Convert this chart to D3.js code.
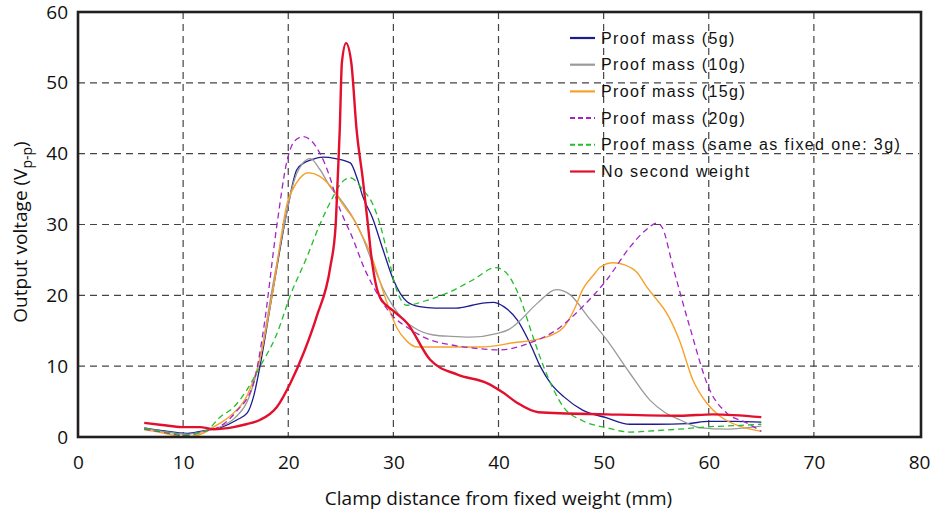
<!DOCTYPE html>
<html>
<head>
<meta charset="utf-8">
<script src="https://cdn.jsdelivr.net/npm/d3@7"></script>
<style>
  body { margin: 0; background: #fff; }
  .tick text { font-family: "Open Sans", sans-serif; font-size: 19px; fill: #111; }
</style>
</head>
<body>
<div id="chart"></div>
<script>
// series: clamp distance (mm) -> output voltage (Vp-p)
const mass5X = [6.3, 8, 10.4, 12, 13.5, 15.1, 16.1, 16.7, 17.3, 18.6, 19.9, 20.8, 21.5, 22.3, 23.3, 24.5, 25.9, 26.6, 27.1, 28, 29, 30, 31.3, 32.5, 34, 36, 37.5, 38.5, 39.5, 40.5, 41.8, 43, 44, 45, 46.2, 48, 50.3, 52.5, 55, 58, 60, 62.5, 65];
const mass5Y = [1.3, 0.9, 0.5, 0.9, 1.3, 2.4, 3.4, 5.7, 9.9, 21.2, 32, 37.7, 38.7, 39.2, 39.5, 39.3, 38.7, 36.3, 33.9, 31, 26.5, 22.2, 19.1, 18.4, 18.2, 18.2, 18.6, 18.9, 19.0, 18.4, 16.5, 13.2, 9.9, 7.5, 5.7, 3.8, 2.7, 1.8, 1.8, 1.9, 2.2, 2.2, 2.1];

const mass10X = [6.3, 8, 10.3, 12, 13.5, 15, 16.1, 17.3, 18.6, 19.9, 20.5, 21.3, 22.1, 23, 24, 25, 25.9, 27, 28, 29, 30, 31, 31.9, 33.8, 35.5, 37.3, 39.8, 41, 41.8, 43.7, 45.5, 46.8, 48.5, 50.3, 52.5, 54.4, 55.8, 57.3, 59.2, 61.7, 63.5, 65];
const mass10Y = [1.2, 0.8, 0.4, 0.8, 1.4, 2.8, 5, 11, 22, 32, 35.9, 38.5, 39.3, 37.8, 35.3, 33.5, 31.6, 28.5, 24.6, 21, 18.4, 16.5, 15.5, 14.4, 14.2, 14.1, 14.6, 15.2, 16.1, 18.9, 20.8, 20.1, 17, 13.7, 9.0, 5.2, 3.5, 2.4, 1.3, 1.1, 1.3, 1.55];

const mass15X = [6.3, 8, 10.2, 12, 12.9, 14.5, 16.1, 17.3, 18.6, 19.9, 20.8, 21.9, 23, 24.3, 25.2, 26.2, 27, 27.8, 28.6, 29.4, 30.3, 31.3, 32.3, 35.1, 38.3, 41.4, 44.3, 46.2, 47.2, 48, 49, 49.7, 50.9, 52, 53.2, 54.1, 55, 56, 57.2, 58.5, 59.8, 61.1, 63, 65];
const mass15Y = [1.0, 0.6, 0.0, 0.6, 1.4, 3.0, 5.9, 11, 21.2, 33, 35.9, 37.3, 36.8, 34.9, 32.8, 30.8, 28.5, 26, 22.5, 18.9, 15.5, 13.5, 12.7, 12.7, 12.7, 13.3, 14, 15.5, 18, 20.8, 22.8, 24, 24.6, 24.3, 23.2, 21.2, 19.5, 17.5, 13.7, 8, 4.8, 2.9, 1.5, 0.8];

const mass20X = [6.3, 8, 10.2, 12, 13.5, 15, 16.7, 17.6, 18.9, 19.9, 20.6, 21.4, 22.2, 23, 24, 24.6, 26.2, 27.3, 28, 29, 30, 31.3, 33.5, 35.5, 37.3, 40.2, 43, 45.5, 48, 50.3, 52.5, 54, 55.1, 55.6, 56.6, 58.2, 60.1, 61.7, 63.6, 65];
const mass20Y = [1.1, 0.7, 0.2, 0.8, 1.5, 3.5, 7.6, 14.7, 29.7, 39.1, 41.8, 42.4, 41.8, 40.1, 36.5, 33.5, 27.8, 23.6, 21.5, 18.9, 17, 15.5, 13.7, 13, 12.6, 12.3, 13.3, 15.1, 18.4, 22.2, 26.8, 29.2, 30.2, 29.5, 24, 15.5, 6.6, 3.4, 2.0, 0.8];

const mass3X = [6.3, 8, 10.3, 12.3, 13.5, 14.8, 16, 17.3, 18.9, 20.2, 21.8, 23, 24.3, 25, 25.9, 27.1, 28, 28.7, 29.5, 30.3, 31.3, 33, 35.1, 37.6, 39.7, 40.5, 42, 43.2, 44.3, 46.2, 48, 50.3, 52.5, 55, 58, 60, 62.5, 65];
const mass3Y = [1.2, 0.8, 0.3, 1.0, 2.8, 4.2, 6.5, 9.9, 14.5, 20, 25.5, 30, 34, 35.8, 36.6, 34.9, 33, 30.2, 25.5, 20.8, 18.6, 19.2, 20.3, 22.2, 23.9, 23.5, 19.8, 14.5, 9.9, 4.2, 2.3, 1.3, 0.7, 0.9, 1.2, 1.45, 1.6, 1.8];

const noWeightX = [6.3, 8, 9.9, 11.6, 12.9, 14.8, 16, 17.3, 18.9, 20.2, 21.5, 22.7, 24, 24.5, 24.7, 24.9, 25.1, 25.5, 26.0, 26.5, 27.1, 27.6, 27.8, 28.7, 30, 31.3, 33.5, 36.1, 38.9, 40.5, 41.8, 43.8, 50.3, 57.3, 60.4, 65];
const noWeightY = [2.0, 1.7, 1.4, 1.4, 1.1, 1.4, 1.8, 2.4, 4.2, 7.6, 12, 17, 24, 29.7, 36.3, 43.4, 52.8, 55.6, 52.8, 43.4, 36.3, 29.7, 26.8, 19.8, 17.8, 16.1, 10.9, 8.8, 7.6, 6.2, 4.8, 3.5, 3.2, 3.0, 3.2, 2.8];

const seriesNames = ["Proof mass (5g)", "Proof mass (10g)", "Proof mass (15g)", "Proof mass (20g)", "Proof mass (same as fixed one: 3g)", "No second weight"];
const xTicks = [0, 10, 20, 30, 40, 50, 60, 70, 80];
const yTicks = [0, 10, 20, 30, 40, 50, 60];

const series = [
  {name: seriesNames[0], xs: mass5X, ys: mass5Y, color: "#1c1c8e", width: 1.3, dash: null},
  {name: seriesNames[1], xs: mass10X, ys: mass10Y, color: "#9a9a9a", width: 1.3, dash: null},
  {name: seriesNames[2], xs: mass15X, ys: mass15Y, color: "#f7a12c", width: 1.4, dash: null},
  {name: seriesNames[3], xs: mass20X, ys: mass20Y, color: "#a524c8", width: 1.3, dash: "6,4"},
  {name: seriesNames[4], xs: mass3X, ys: mass3Y, color: "#23be2a", width: 1.3, dash: "6,4"},
  {name: seriesNames[5], xs: noWeightX, ys: noWeightY, color: "#e3102d", width: 2.4, dash: null},
];

const W = 933, H = 511;
const margin = {top: 12, right: 14, bottom: 74, left: 78},
      width = 919 - margin.left,
      height = 437 - margin.top;

const svg = d3.select("#chart")
  .append("svg")
    .attr("width", W)
    .attr("height", H)
  .append("g")
    .attr("transform", `translate(${margin.left},${margin.top})`);

const x = d3.scaleLinear().domain([0, 80]).range([0, width]);
const y = d3.scaleLinear().domain([0, 60]).range([height, 0]);

// dashed grid
svg.append("g")
  .selectAll("line")
  .data(xTicks.filter(d => d > 0 && d < 80))
  .join("line")
    .attr("x1", d => x(d)).attr("x2", d => x(d))
    .attr("y1", 0).attr("y2", height)
    .attr("stroke", "#444").attr("stroke-width", 1.2)
    .attr("stroke-dasharray", "7,5");

svg.append("g")
  .selectAll("line")
  .data(yTicks.filter(d => d > 0 && d < 60))
  .join("line")
    .attr("x1", 0).attr("x2", width)
    .attr("y1", d => y(d)).attr("y2", d => y(d))
    .attr("stroke", "#444").attr("stroke-width", 1.2)
    .attr("stroke-dasharray", "7,5");

// axes (labels only, frame drawn separately)
svg.append("g")
  .attr("transform", `translate(0,${height})`)
  .call(d3.axisBottom(x).tickValues(xTicks).tickSize(0).tickPadding(19))
  .call(g => g.select(".domain").remove());

svg.append("g")
  .call(d3.axisLeft(y).tickValues(yTicks).tickSize(0).tickPadding(10))
  .call(g => g.select(".domain").remove());

// curves
const line = d3.line()
  .x(d => x(d[0]))
  .y(d => y(d[1]))
  .curve(d3.curveMonotoneX);

series.forEach(s => {
  svg.append("path")
    .datum(s.xs.map((v, i) => [v, s.ys[i]]))
    .attr("fill", "none")
    .attr("stroke", s.color)
    .attr("stroke-width", s.width)
    .attr("stroke-dasharray", s.dash)
    .attr("d", line);
});

// frame
svg.append("rect")
  .attr("x", 0).attr("y", 0)
  .attr("width", width + 2).attr("height", height)
  .attr("fill", "none")
  .attr("stroke", "#231f20")
  .attr("stroke-width", 2.6);

// legend
const legend = svg.append("g")
  .attr("transform", `translate(${570 - margin.left},${38 - margin.top})`);

series.forEach((s, i) => {
  const row = legend.append("g").attr("transform", `translate(0,${i * 26.7})`);
  row.append("line")
    .attr("x1", 0).attr("x2", 25)
    .attr("stroke", s.color)
    .attr("stroke-width", s.dash ? 2 : 2.2)
    .attr("stroke-dasharray", s.dash ? "5,3" : null);
  row.append("text")
    .attr("x", 31).attr("y", 5.5)
    .style("font-family", "'Liberation Sans', Arial, sans-serif")
    .style("font-size", "16px")
    .style("letter-spacing", "1.4px")
    .attr("fill", "#111")
    .text(s.name);
});

// axis titles
svg.append("text")
  .attr("x", width / 2)
  .attr("y", 505 - margin.top)
  .attr("text-anchor", "middle")
  .style("font-family", "'Open Sans', sans-serif")
  .style("font-size", "19px")
  .attr("fill", "#111")
  .text("Clamp distance from fixed weight (mm)");

const yTitle = svg.append("text")
  .attr("transform", `translate(${27 - margin.left},${232 - margin.top}) rotate(-90)`)
  .attr("text-anchor", "middle")
  .style("font-family", "'Open Sans', sans-serif")
  .style("font-size", "19px")
  .attr("fill", "#111");
yTitle.append("tspan").text("Output voltage (V");
yTitle.append("tspan").attr("dy", 5).style("font-size", "14px").text("p-p");
yTitle.append("tspan").attr("dy", -5).text(")");
</script>
</body>
</html>
